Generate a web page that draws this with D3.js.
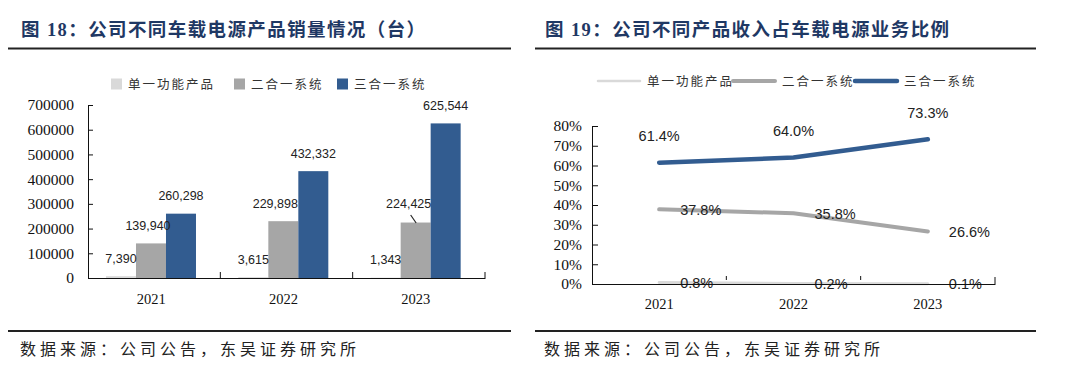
<!DOCTYPE html>
<html>
<head>
<meta charset="utf-8">
<script src="https://cdn.jsdelivr.net/npm/d3@7"></script>
<style>
  body { margin: 0; background: #fff; }
  svg { display: block; }
</style>
</head>
<body>
<div id="chart"></div>
<script>
// data
const years = ["2021", "2022", "2023"];
const seriesNames = ["单一功能产品", "二合一系统", "三合一系统"];
const salesSingle = [7390, 3615, 1343];
const salesTwoInOne = [139940, 229898, 224425];
const salesThreeInOne = [260298, 432332, 625544];
const shareSingle = [0.8, 0.2, 0.1];
const shareTwoInOne = [37.8, 35.8, 26.6];
const shareThreeInOne = [61.4, 64.0, 73.3];
const salesTicks = [0, 100000, 200000, 300000, 400000, 500000, 600000, 700000];
const shareTicks = [0, 10, 20, 30, 40, 50, 60, 70, 80];

const colors = ["#d9d9d9", "#a6a6a6", "#325c90"];
const titleColor = "#1f3864";
const serif = "'Liberation Serif', 'Times New Roman', serif";
const cjk = "'Noto Sans CJK SC', sans-serif";
const sans = "'Liberation Sans', Arial, sans-serif";

const svg = d3.select("#chart")
    .append("svg")
    .attr("width", 1080)
    .attr("height", 376);

// titles, rules and sources
const panels = [
    {x0: 8, x1: 511, tx: 21, title: "图 18：公司不同车载电源产品销量情况（台）"},
    {x0: 535, x1: 1036, tx: 545, title: "图 19：公司不同产品收入占车载电源业务比例"}
];
panels.forEach(function(p) {
    svg.append("text")
        .attr("x", p.tx).attr("y", 36)
        .attr("font-family", serif + ", " + cjk)
        .attr("font-weight", "bold")
        .attr("font-size", 18.5)
        .attr("letter-spacing", 1.4)
        .attr("fill", titleColor)
        .text(p.title);
    svg.append("line")
        .attr("x1", p.x0).attr("x2", p.x1)
        .attr("y1", 48.5).attr("y2", 48.5)
        .attr("stroke", "#222").attr("stroke-width", 2);
    svg.append("line")
        .attr("x1", p.x0).attr("x2", p.x1)
        .attr("y1", 331).attr("y2", 331)
        .attr("stroke", "#222").attr("stroke-width", 2);
    svg.append("text")
        .attr("x", p.tx - 1).attr("y", 355)
        .attr("font-family", cjk)
        .attr("font-size", 16)
        .attr("letter-spacing", 4)
        .attr("fill", "#222")
        .text("数据来源：公司公告，东吴证券研究所");
});

// ---------- left: grouped bars ----------
const salesSeries = [salesSingle, salesTwoInOne, salesThreeInOne];

const x0 = d3.scaleBand()
    .domain(years)
    .range([88, 485]);
const x1 = d3.scaleBand()
    .domain(seriesNames)
    .range([x0.bandwidth() * 0.136, x0.bandwidth() * 0.816]);
const yL = d3.scaleLinear()
    .domain([0, 700000])
    .range([278, 105]);

// legend
const legLx = [111, 234, 337];
seriesNames.forEach(function(name, i) {
    svg.append("rect")
        .attr("x", legLx[i]).attr("y", 78.5)
        .attr("width", 11).attr("height", 11)
        .attr("fill", colors[i]);
    svg.append("text")
        .attr("x", legLx[i] + 17).attr("y", 88.5)
        .attr("font-family", cjk)
        .attr("font-size", 12.5)
        .attr("letter-spacing", 2)
        .attr("fill", "#333")
        .text(name);
});

const barData = [];
years.forEach(function(yr, j) {
    seriesNames.forEach(function(name, i) {
        barData.push({year: yr, name: name, i: i, value: salesSeries[i][j]});
    });
});

svg.selectAll("rect.bar")
    .data(barData)
    .enter()
    .append("rect")
    .attr("class", "bar")
    .attr("x", function(d) { return x0(d.year) + x1(d.name); })
    .attr("y", function(d) { return yL(d.value); })
    .attr("width", x1.bandwidth())
    .attr("height", function(d) { return yL(0) - yL(d.value); })
    .attr("fill", function(d) { return colors[d.i]; });

// label nudges where the original moved a label sideways
const nudge = {"2021|二合一系统": -3, "2022|二合一系统": -8, "2023|二合一系统": -7};
svg.selectAll("text.barlabel")
    .data(barData)
    .enter()
    .append("text")
    .attr("class", "barlabel")
    .attr("x", function(d) { return x0(d.year) + x1(d.name) + x1.bandwidth() / 2 + (nudge[d.year + "|" + d.name] || 0); })
    .attr("y", function(d) { return yL(d.value) - (d.year === "2023" && d.i === 1 ? 15 : 13.5); })
    .attr("text-anchor", "middle")
    .attr("font-family", sans)
    .attr("font-size", 12.5)
    .attr("fill", "#222")
    .text(function(d) { return d3.format(",")(d.value); });

// leader line for 224,425
const lead = barData.find(function(d) { return d.year === "2023" && d.i === 1; });
const lx = x0(lead.year) + x1(lead.name) + x1.bandwidth() / 2;
svg.append("line")
    .attr("x1", lx - 5).attr("y1", yL(lead.value) - 7.5)
    .attr("x2", lx + 0.5).attr("y2", yL(lead.value) + 0.5)
    .attr("stroke", "#222").attr("stroke-width", 1.2);

// y axis
svg.append("g")
    .attr("transform", "translate(88,0)")
    .call(d3.axisLeft(yL).tickValues(salesTicks).tickSizeInner(-5).tickSizeOuter(0).tickPadding(14).tickFormat(d3.format("d")))
    .call(function(g) {
        g.selectAll("text").attr("font-family", serif).attr("font-size", 15.5).attr("fill", "#111");
        g.selectAll("line, path").attr("stroke", "#111");
    });

// x axis
svg.append("g")
    .attr("transform", "translate(0,278)")
    .call(d3.axisBottom(x0).tickSize(0).tickPadding(0).tickFormat(""))
    .call(function(g) { g.select("path").attr("stroke", "#111"); });
svg.selectAll("line.xtickL")
    .data(years)
    .enter()
    .append("line")
    .attr("class", "xtickL")
    .attr("x1", function(d) { return x0(d) + x0.step(); })
    .attr("x2", function(d) { return x0(d) + x0.step(); })
    .attr("y1", 278).attr("y2", 272)
    .attr("stroke", "#111");
svg.selectAll("text.xlabL")
    .data(years)
    .enter()
    .append("text")
    .attr("class", "xlabL")
    .attr("x", function(d) { return x0(d) + x0.bandwidth() / 2 - 3; })
    .attr("y", 304)
    .attr("text-anchor", "middle")
    .attr("font-family", serif)
    .attr("font-size", 14.5)
    .attr("fill", "#111")
    .text(function(d) { return d; });

// ---------- right: lines ----------
const shareSeries = [shareSingle, shareTwoInOne, shareThreeInOne];
const xR = d3.scaleBand()
    .domain(years)
    .range([592, 995]);
const yR = d3.scaleLinear()
    .domain([0, 80])
    .range([284, 126]);

// legend
const legRx = [598, 733, 855];
const legRw = [2.5, 4, 4.5];
seriesNames.forEach(function(name, i) {
    svg.append("line")
        .attr("x1", legRx[i]).attr("x2", legRx[i] + 42)
        .attr("y1", 81).attr("y2", 81)
        .attr("stroke", colors[i])
        .attr("stroke-width", legRw[i])
        .attr("stroke-linecap", "round");
    svg.append("text")
        .attr("x", legRx[i] + 49).attr("y", 86)
        .attr("font-family", cjk)
        .attr("font-size", 12.5)
        .attr("letter-spacing", 2)
        .attr("fill", "#333")
        .text(name);
});

const line = d3.line()
    .x(function(d, j) { return xR(years[j]) + xR.bandwidth() / 2; })
    .y(function(d) { return yR(d); });

const lineW = [3, 4, 4.5];
shareSeries.forEach(function(vals, i) {
    svg.append("path")
        .datum(vals)
        .attr("d", line)
        .attr("fill", "none")
        .attr("stroke", colors[i])
        .attr("stroke-width", lineW[i])
        .attr("stroke-linejoin", "round")
        .attr("stroke-linecap", "round");
});

// labels: blue above, the others to the right
shareSeries.forEach(function(vals, i) {
    svg.selectAll("text.sl" + i)
        .data(vals)
        .enter()
        .append("text")
        .attr("class", "sl" + i)
        .attr("x", function(d, j) { return xR(years[j]) + xR.bandwidth() / 2 + (i === 2 ? 0 : 21); })
        .attr("y", function(d) { return i === 2 ? yR(d) - 21.5 : yR(d) + 5.5; })
        .attr("text-anchor", i === 2 ? "middle" : "start")
        .attr("font-family", sans)
        .attr("font-size", 14.5)
        .attr("fill", "#222")
        .text(function(d) { return d3.format(".1f")(d) + "%"; });
});

// axes drawn last, over the labels
svg.append("g")
    .attr("transform", "translate(592,0)")
    .call(d3.axisLeft(yR).tickValues(shareTicks).tickSizeInner(-6).tickSizeOuter(0).tickPadding(10).tickFormat(function(d) { return d + "%"; }))
    .call(function(g) {
        g.selectAll("text").attr("font-family", serif).attr("font-size", 15.5).attr("fill", "#111");
        g.selectAll("line, path").attr("stroke", "#111");
    });
svg.append("g")
    .attr("transform", "translate(0,284)")
    .call(d3.axisBottom(xR).tickSize(0).tickPadding(0).tickFormat(""))
    .call(function(g) { g.select("path").attr("stroke", "#111"); });
svg.selectAll("line.xtickR")
    .data(years)
    .enter()
    .append("line")
    .attr("class", "xtickR")
    .attr("x1", function(d) { return xR(d) + xR.step(); })
    .attr("x2", function(d) { return xR(d) + xR.step(); })
    .attr("y1", function(d, j) { return j === 2 ? 284 : 280; })
    .attr("y2", function(d, j) { return j === 2 ? 277 : 276; })
    .attr("stroke", "#111");
svg.selectAll("text.xlabR")
    .data(years)
    .enter()
    .append("text")
    .attr("class", "xlabR")
    .attr("x", function(d) { return xR(d) + xR.bandwidth() / 2; })
    .attr("y", 308.5)
    .attr("text-anchor", "middle")
    .attr("font-family", serif)
    .attr("font-size", 14.5)
    .attr("fill", "#111")
    .text(function(d) { return d; });
</script>
</body>
</html>
